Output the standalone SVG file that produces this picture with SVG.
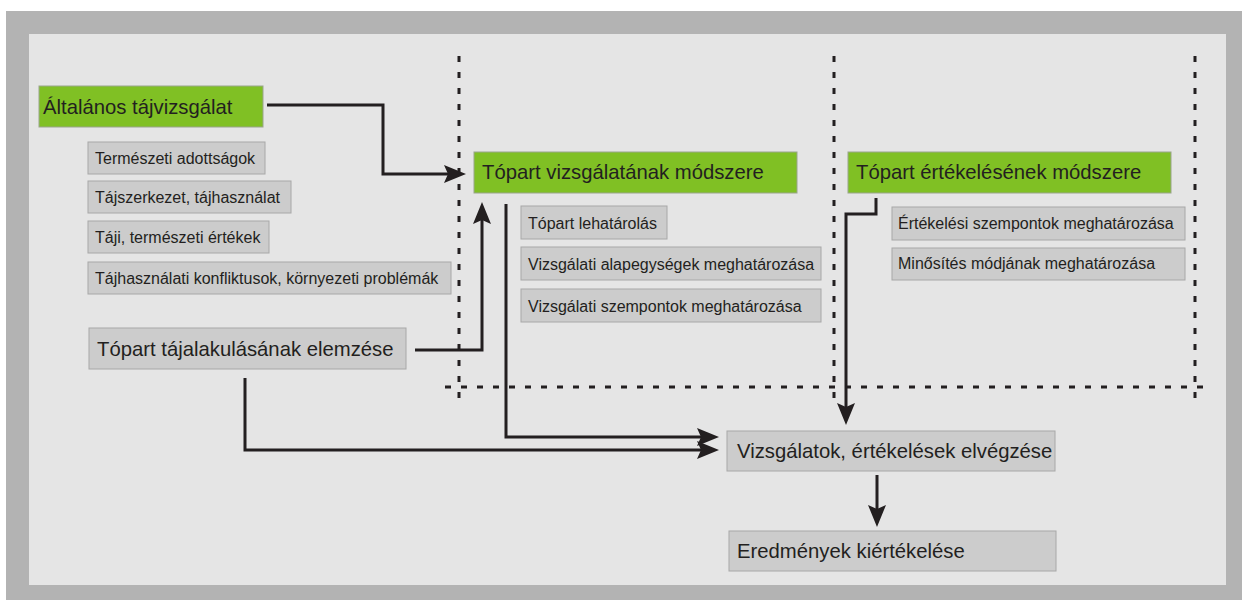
<svg xmlns="http://www.w3.org/2000/svg" width="1242" height="600" viewBox="0 0 1242 600">
<style>
text{font-family:"Liberation Sans",Arial,sans-serif;fill:#231f20}
.big{font-size:20.3px}
.sm{font-size:16px}
.g{fill:#80c024;stroke:#9aa58c;stroke-width:1}
.b{fill:#cccccc;stroke:#a8a8a8;stroke-width:1}
.c{fill:none;stroke:#231f20;stroke-width:3}
.d{fill:none;stroke:#231f20;stroke-width:3;stroke-dasharray:6 10}
</style>
<defs>
<marker id="ah" viewBox="0 0 22 18" refX="4" refY="9" markerWidth="22" markerHeight="18" markerUnits="userSpaceOnUse" orient="auto">
<path d="M0,0 L22,9 L0,18 L4,9 z" fill="#231f20"/>
</marker>
</defs>
<rect x="6" y="11" width="1236" height="589" fill="#b3b3b3"/>
<rect x="29" y="34" width="1197" height="551" fill="#e5e5e5"/>
<g id="dividers">
<line class="d" x1="459" y1="56" x2="459" y2="398"/>
<line class="d" x1="834" y1="56" x2="834" y2="398"/>
<line class="d" x1="1195" y1="56" x2="1195" y2="398"/>
<line class="d" x1="445" y1="387" x2="1212" y2="387"/>
</g>
<g id="connectors">
<path class="c" d="M267,105 H383 V174 H448" marker-end="url(#ah)"/>
<path class="c" d="M415,350 H482 V220" marker-end="url(#ah)"/>
<path class="c" d="M506,204 V437 H701" marker-end="url(#ah)"/>
<path class="c" d="M245,378 V450 H701" marker-end="url(#ah)"/>
<path class="c" d="M876,198 V214 H846 V407" marker-end="url(#ah)"/>
<path class="c" d="M877,475 V509" marker-end="url(#ah)"/>
</g>
<g id="altalanos"><rect class="g" x="39" y="86" width="224" height="41"/><text class="big" x="43" y="114">Általános tájvizsgálat</text></g>
<g id="termeszeti"><rect class="b" x="88" y="142" width="177" height="32"/><text class="sm" x="95" y="164">Természeti adottságok</text></g>
<g id="tajszerkezet"><rect class="b" x="88" y="181" width="203" height="32"/><text class="sm" x="95" y="203">Tájszerkezet, tájhasználat</text></g>
<g id="taji"><rect class="b" x="88" y="221" width="181" height="32"/><text class="sm" x="95" y="243">Táji, természeti értékek</text></g>
<g id="konfliktusok"><rect class="b" x="88" y="262" width="363" height="32"/><text class="sm" x="95" y="284">Tájhasználati konfliktusok, környezeti problémák</text></g>
<g id="tajalakulas"><rect class="b" x="89" y="328" width="317" height="41"/><text class="big" x="97" y="356">Tópart tájalakulásának elemzése</text></g>
<g id="vizsgalat-modszer"><rect class="g" x="474" y="152" width="323" height="41"/><text class="big" x="482" y="179">Tópart vizsgálatának módszere</text></g>
<g id="lehatarolas"><rect class="b" x="521" y="206" width="146" height="33"/><text class="sm" x="528" y="229">Tópart lehatárolás</text></g>
<g id="alapegysegek"><rect class="b" x="521" y="247" width="300" height="33"/><text class="sm" x="528" y="270">Vizsgálati alapegységek meghatározása</text></g>
<g id="szempontok"><rect class="b" x="521" y="289" width="300" height="33"/><text class="sm" x="528" y="312">Vizsgálati szempontok meghatározása</text></g>
<g id="ertekeles-modszer"><rect class="g" x="848" y="152" width="323" height="41"/><text class="big" x="856" y="179">Tópart értékelésének módszere</text></g>
<g id="ertekelesi-szempontok"><rect class="b" x="892" y="207" width="293" height="33"/><text class="sm" x="898" y="229">Értékelési szempontok meghatározása</text></g>
<g id="minosites"><rect class="b" x="892" y="248" width="293" height="32"/><text class="sm" x="898" y="269">Minősítés módjának meghatározása</text></g>
<g id="vizsgalatok"><rect class="b" x="727" y="431" width="328" height="40"/><text class="big" x="737" y="458">Vizsgálatok, értékelések elvégzése</text></g>
<g id="eredmenyek"><rect class="b" x="729" y="531" width="327" height="40"/><text class="big" x="737" y="558">Eredmények kiértékelése</text></g>
</svg>
